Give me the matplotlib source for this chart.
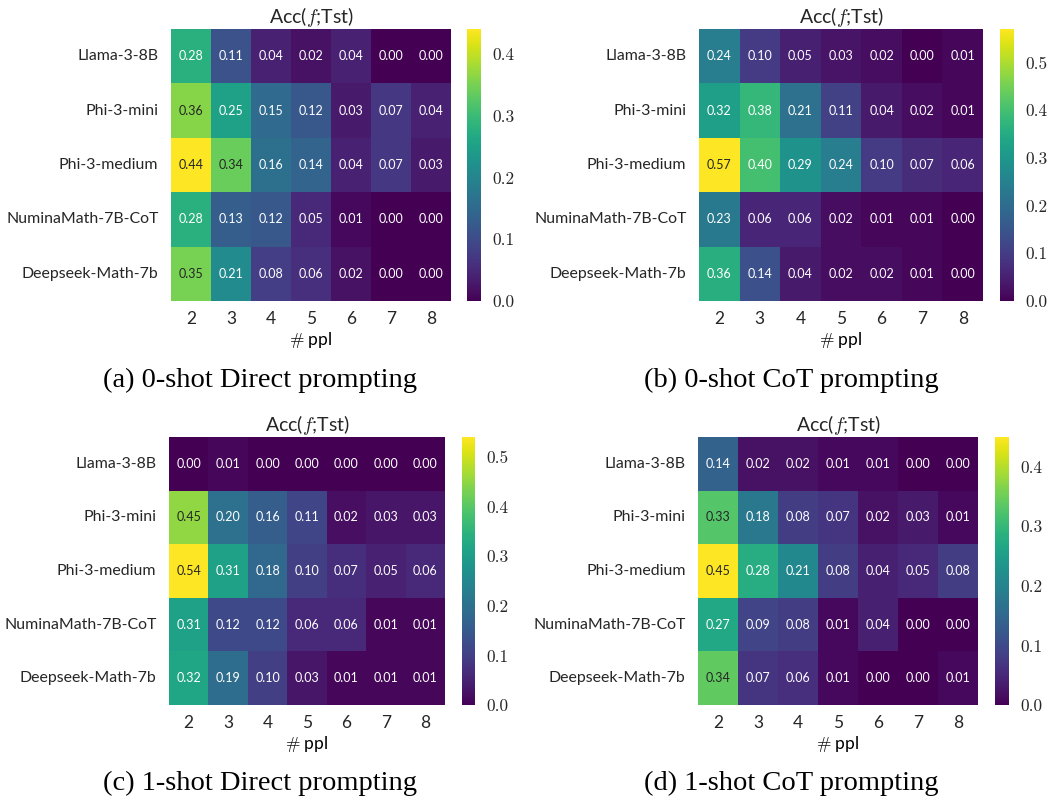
import matplotlib
matplotlib.use('Agg')
import matplotlib.pyplot as plt
import seaborn as sns
import numpy as np

plt.rcParams['font.family'] = ['Lato', 'DejaVu Sans']
plt.rcParams['mathtext.fontset'] = 'cm'
plt.rcParams['text.color'] = '#262626'

models = ['Llama-3-8B', 'Phi-3-mini', 'Phi-3-medium', 'NuminaMath-7B-CoT', 'Deepseek-Math-7b']
ppl = [2, 3, 4, 5, 6, 7, 8]

# accuracy tables, rows = models, cols = # ppl
acc_0shot_direct = [
    [0.28, 0.11, 0.04, 0.02, 0.04, 0.00, 0.00],
    [0.36, 0.25, 0.15, 0.12, 0.03, 0.07, 0.04],
    [0.44, 0.34, 0.16, 0.14, 0.04, 0.07, 0.03],
    [0.28, 0.13, 0.12, 0.05, 0.01, 0.00, 0.00],
    [0.35, 0.21, 0.08, 0.06, 0.02, 0.00, 0.00],
]
acc_0shot_cot = [
    [0.24, 0.10, 0.05, 0.03, 0.02, 0.00, 0.01],
    [0.32, 0.38, 0.21, 0.11, 0.04, 0.02, 0.01],
    [0.57, 0.40, 0.29, 0.24, 0.10, 0.07, 0.06],
    [0.23, 0.06, 0.06, 0.02, 0.01, 0.01, 0.00],
    [0.36, 0.14, 0.04, 0.02, 0.02, 0.01, 0.00],
]
acc_1shot_direct = [
    [0.00, 0.01, 0.00, 0.00, 0.00, 0.00, 0.00],
    [0.45, 0.20, 0.16, 0.11, 0.02, 0.03, 0.03],
    [0.54, 0.31, 0.18, 0.10, 0.07, 0.05, 0.06],
    [0.31, 0.12, 0.12, 0.06, 0.06, 0.01, 0.01],
    [0.32, 0.19, 0.10, 0.03, 0.01, 0.01, 0.01],
]
acc_1shot_cot = [
    [0.14, 0.02, 0.02, 0.01, 0.01, 0.00, 0.00],
    [0.33, 0.18, 0.08, 0.07, 0.02, 0.03, 0.01],
    [0.45, 0.28, 0.21, 0.08, 0.04, 0.05, 0.08],
    [0.27, 0.09, 0.08, 0.01, 0.04, 0.00, 0.00],
    [0.34, 0.07, 0.06, 0.01, 0.00, 0.00, 0.01],
]
captions = ['(a) 0-shot Direct prompting', '(b) 0-shot CoT prompting',
            '(c) 1-shot Direct prompting', '(d) 1-shot CoT prompting']

W, H = 1055, 800
fig = plt.figure(figsize=(W / 100, H / 100), dpi=100)


def box(x0, y0, x1, y1):
    # pixel box (top-left origin) -> figure rect
    return [x0 / W, 1 - y1 / H, (x1 - x0) / W, (y1 - y0) / H]


panels = [
    (acc_0shot_direct, (171, 29, 451, 301), (467, 29, 481, 301), (260, 380)),
    (acc_0shot_cot, (699, 29, 983, 301), (1000, 29, 1014, 301), (791, 380)),
    (acc_1shot_direct, (169, 437, 445, 705), (462, 437, 475, 705), (260, 783)),
    (acc_1shot_cot, (698, 437, 978, 705), (995, 437, 1009, 705), (791, 783)),
]

for (data, axb, cbb, cap), caption in zip(panels, captions):
    ax = fig.add_axes(box(*axb))
    cax = fig.add_axes(box(*cbb))
    arr = np.array(data)
    sns.heatmap(arr, ax=ax, cbar_ax=cax, cmap='viridis', vmin=0, vmax=arr.max(),
                annot=True, fmt='.2f', annot_kws={'fontsize': 9},
                xticklabels=ppl, yticklabels=models)
    ax.tick_params(axis='x', length=0, labelsize=12.5, colors='#262626', pad=7)
    ax.tick_params(axis='y', length=0, labelsize=11.4, colors='#262626', pad=9,
                   rotation=0)
    ax.set_title(r'Acc($f$;Tst)', fontsize=14, pad=3)
    ax.set_xlabel(r'$\#$ ppl', fontsize=12.5, labelpad=2)
    cax.tick_params(length=0, pad=8)
    cax.yaxis.set_major_locator(matplotlib.ticker.MultipleLocator(0.1))
    for t in cax.get_yticklabels():
        t.set_fontfamily('cmr10')
        t.set_fontsize(12.5)
        t.set_color('#262626')
    fig.text(cap[0] / W, 1 - cap[1] / H, caption, ha='center', va='center',
             fontsize=20.5, family=['Liberation Serif', 'DejaVu Serif'],
             color='black')

fig.savefig('out.png', dpi=100)
